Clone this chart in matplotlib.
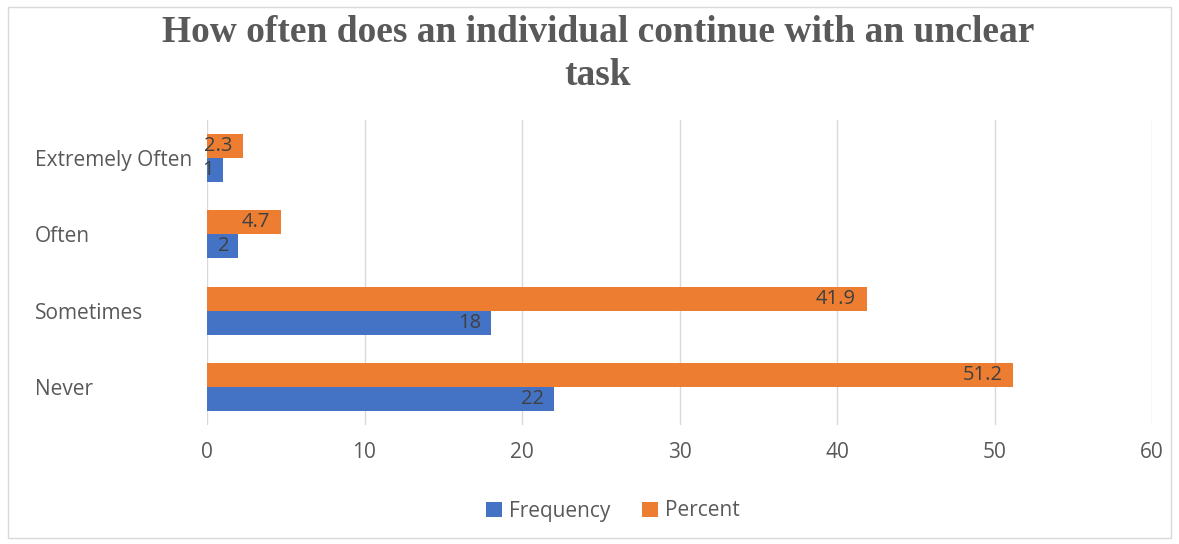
import matplotlib
matplotlib.use("Agg")
import matplotlib.pyplot as plt
import matplotlib.transforms as mtransforms
from matplotlib.patches import Rectangle
import numpy as np

categories = ["Never", "Sometimes", "Often", "Extremely Often"]
frequency = [22, 18, 2, 1]
percent = [51.2, 41.9, 4.7, 2.3]
xticks = [0, 10, 20, 30, 40, 50, 60]
title = "How often does an individual continue with an unclear\ntask"

W, H = 1179, 544
fig = plt.figure(figsize=(W / 100, H / 100), dpi=100)
fig.patch.set_facecolor("white")
fig.patches.append(Rectangle((8 / W, 1 - 538 / H), (1171 - 8) / W, (538 - 7) / H,
                             transform=fig.transFigure, fill=False,
                             edgecolor="#D9D9D9", linewidth=1))

ax = fig.add_axes([207 / W, 1 - 425 / H, (1152 - 207) / W, (425 - 120) / H])
blue = "#4472C4"
orange = "#ED7D31"
y = np.arange(len(categories))
h = 0.315
bf = ax.barh(y - h / 2, frequency, height=h, color=blue, label="Frequency", zorder=3)
bp = ax.barh(y + h / 2, percent, height=h, color=orange, label="Percent", zorder=3)

for yy, v in zip(y - h / 2, frequency):
    ax.annotate(str(v), (v, yy), xytext=(-9, 0), textcoords="offset pixels",
                ha="right", va="center", fontsize=14.5, color="#404040",
                family="Open Sans", zorder=4)
for yy, v in zip(y + h / 2, percent):
    ax.annotate(str(v), (v, yy), xytext=(-11, 0), textcoords="offset pixels",
                ha="right", va="center", fontsize=14.5, color="#404040",
                family="Open Sans", zorder=4)

ax.set_xlim(0, 60)
ax.set_ylim(-0.5, 3.5)
ax.set_xticks(xticks)
ax.set_xticklabels([str(t) for t in xticks])
ax.set_yticks(y)
ax.set_yticklabels(categories)
ax.grid(axis="x", color="#D9D9D9", linewidth=1, zorder=0)
for s in ax.spines.values():
    s.set_visible(False)
ax.tick_params(axis="both", length=0, labelsize=15, labelcolor="#595959")
ax.tick_params(axis="x", pad=12)
for t in ax.get_xticklabels() + ax.get_yticklabels():
    t.set_family("Open Sans")
for t in ax.get_yticklabels():
    t.set_horizontalalignment("left")
    t.set_transform(mtransforms.blended_transform_factory(fig.transFigure, ax.transData))
    t.set_x(35 / W)

fig.text(598 / W, 1 - 54 / H, title, ha="center", va="center", fontsize=27,
         family="Liberation Serif", fontweight="bold", color="#595959", linespacing=1.3)

leg = fig.legend(handles=[bf, bp], labels=["Frequency", "Percent"], loc="center",
                 bbox_to_anchor=(613 / W, 1 - 511 / H), ncol=2, frameon=False,
                 prop={"family": "Open Sans", "size": 15}, handlelength=0.75,
                 handleheight=0.75, columnspacing=1.5, handletextpad=0.35)
for t in leg.get_texts():
    t.set_color("#595959")

fig.savefig("out.png", dpi=100)
